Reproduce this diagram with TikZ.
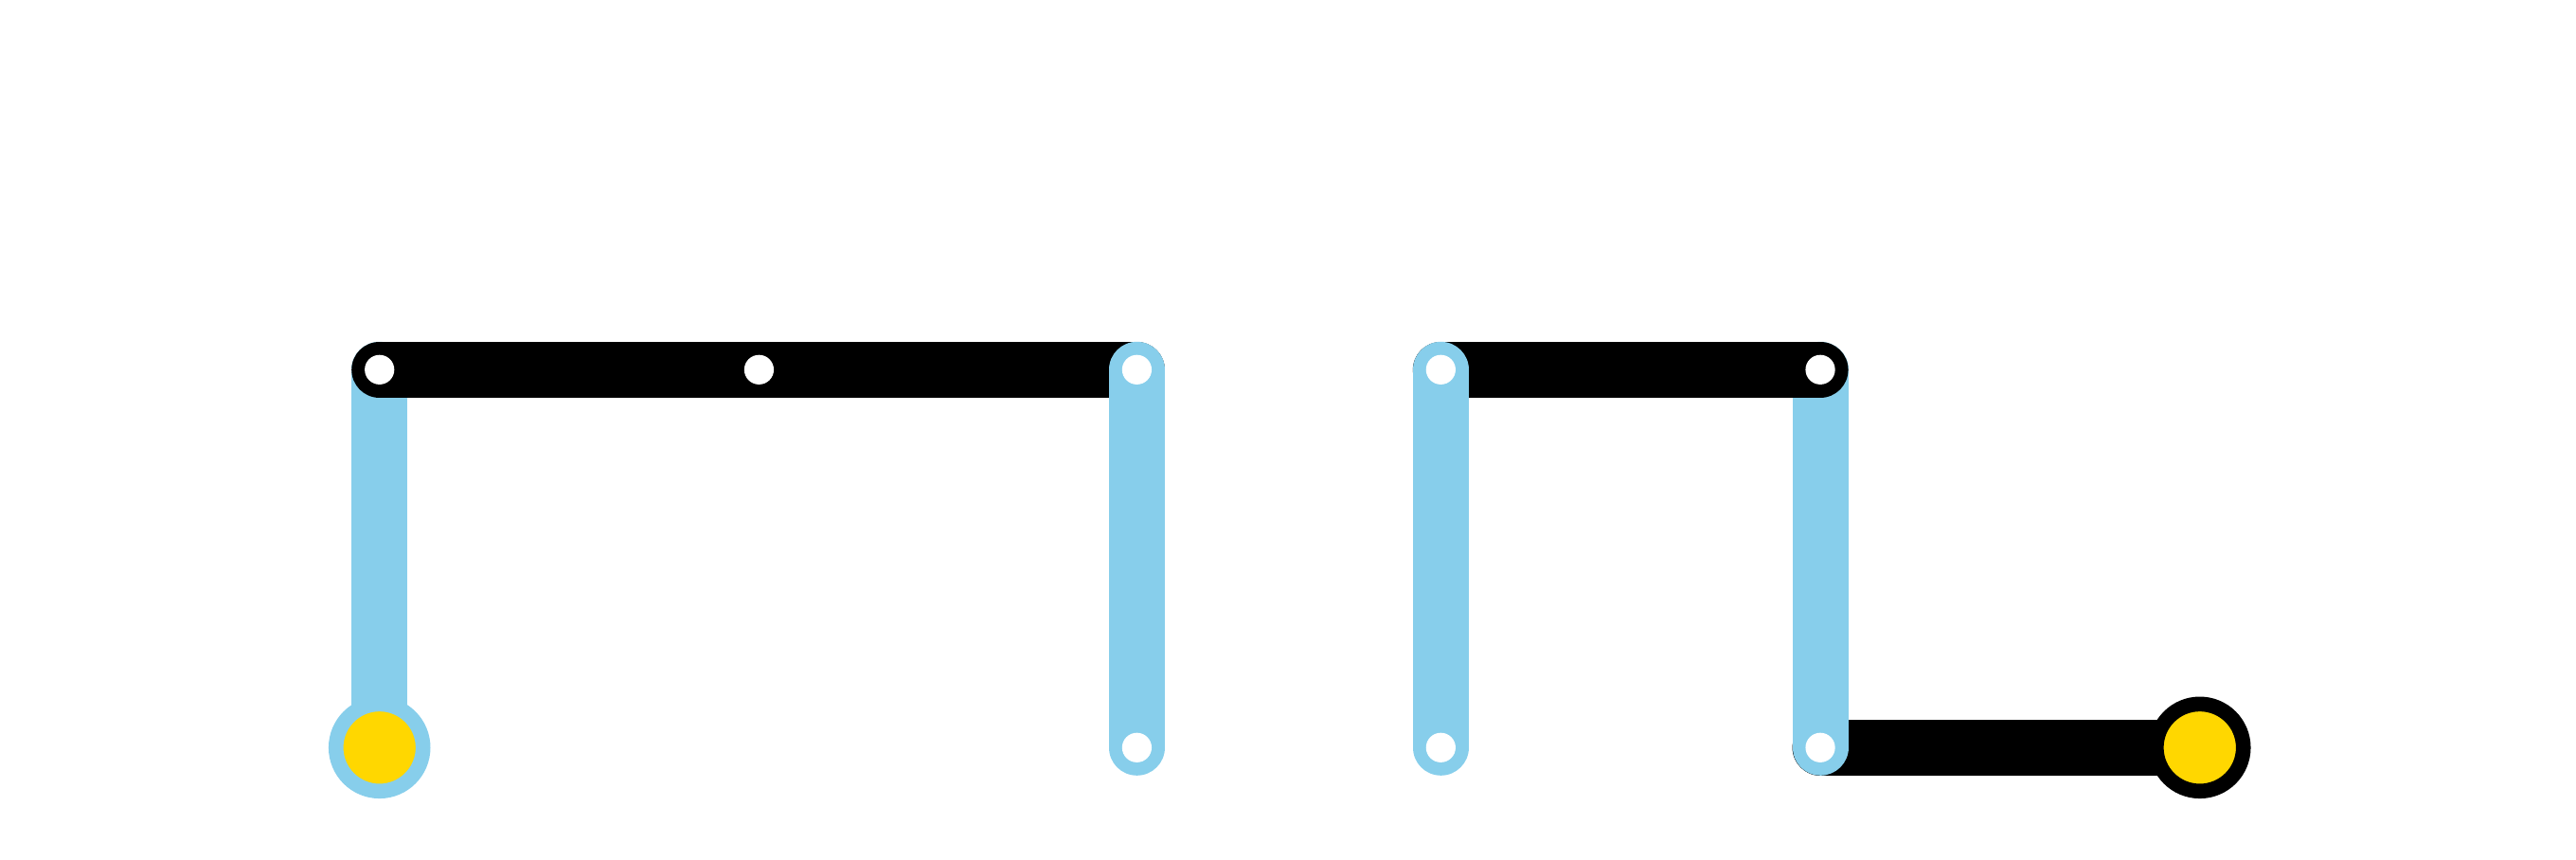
\documentclass[tikz,border=0pt]{standalone}
\begin{document}
\begin{tikzpicture}[x=1pt,y=-1pt,
  blueline/.style={line width=34pt,color=skyb,line cap=round},
  blackline/.style={line width=34pt,color=black,line cap=round},
  stop/.style={circle,fill=white,inner sep=0pt,minimum size=18pt},
  terminal/.style={circle,fill=gold,draw=#1,line width=9pt,inner sep=0pt,minimum size=53pt}]
\definecolor{skyb}{HTML}{87CEEB}
\definecolor{gold}{HTML}{FFD700}
\useasboundingbox (0,0) rectangle (1568,523);
\coordinate (a1) at (231,225); \coordinate (a2) at (462,225); \coordinate (a3) at (692,225);
\coordinate (a0) at (231,455); \coordinate (a4) at (692,455);
\coordinate (b1) at (877,225); \coordinate (b0) at (877,455);
\coordinate (b2) at (1108,225); \coordinate (b3) at (1108,455); \coordinate (b4) at (1339,455);
\draw[blueline] (a0) -- (a1);
\draw[blackline] (a1) -- (a3);
\draw[blueline] (a3) -- (a4);
\draw[blackline] (b3) -- (b4);
\draw[blueline] (b2) -- (b3);
\draw[blackline] (b1) -- (b2);
\draw[blueline] (b0) -- (b1);
\foreach \p/\n in {a1/s1,a2/s2,a3/s3,a4/s4,b1/s5,b0/s6,b2/s7,b3/s8}
  \node[stop] (\n) at (\p) {};
\node[terminal=skyb] (start) at (a0) {};
\node[terminal=black] (end) at (b4) {};
\end{tikzpicture}
\end{document}
